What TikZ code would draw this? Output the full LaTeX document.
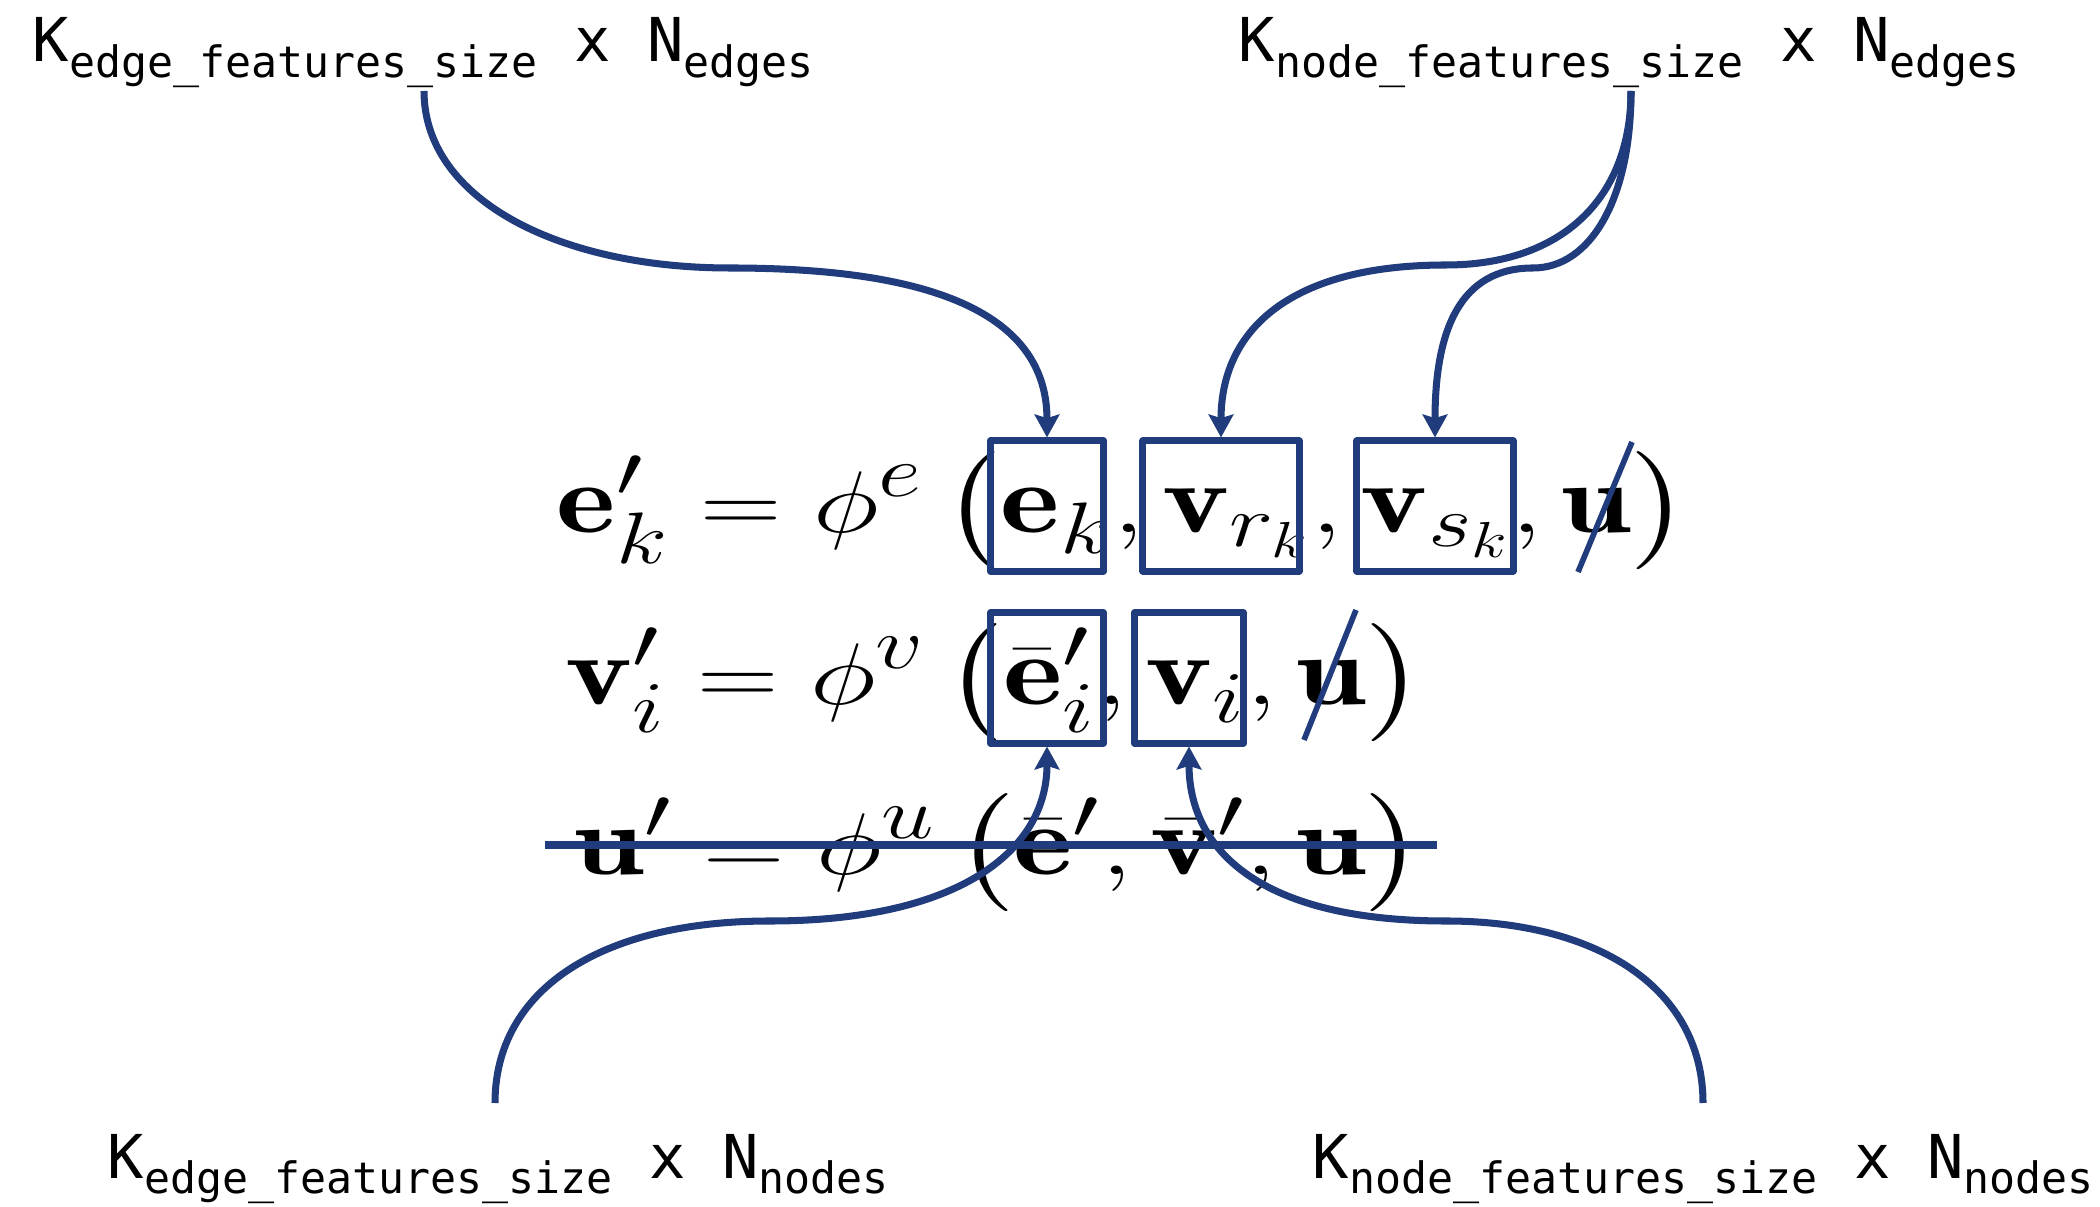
\documentclass[tikz,border=0pt]{standalone}
\usepackage{amsmath,amssymb}
\usepackage{fontspec}
\setmonofont{DejaVu Sans Mono}
\usetikzlibrary{arrows.meta}
\definecolor{gnblue}{RGB}{32,60,124}
\newcommand{\fsub}[1]{\raisebox{-4.5pt}{\fontsize{12.3}{14}\selectfont #1}}
\newcommand{\wideeq}[1]{\scalebox{1.29}[1]{$\displaystyle #1$}}

\begin{document}
\begin{tikzpicture}[x=0.01cm, y=0.01cm,
    flabel/.style={anchor=base west, inner sep=0pt, font=\fontsize{17.2}{20}\selectfont\ttfamily},
    eqn/.style={anchor=base west, inner sep=0pt, font=\fontsize{28}{40}\selectfont},
    termbox/.style={draw=gnblue, line width=2pt, line join=round, inner sep=0pt},
    link/.style={draw=gnblue, line width=2pt, -{Stealth[length=6.5pt, width=7pt, inset=1pt]}},
    cut/.style={draw=gnblue, line width=1.6pt}]
    \useasboundingbox (0,0) rectangle (2100,-1207);

    % Dimensoes
    \node[flabel] (kedgeE) at (32,-62) {K\fsub{edge\_features\_size} x N\fsub{edges}};
    \node[flabel] (knodeE) at (1238,-62) {K\fsub{node\_features\_size} x N\fsub{edges}};
    \node[flabel] (kedgeN) at (107,-1178) {K\fsub{edge\_features\_size} x N\fsub{nodes}};
    \node[flabel] (knodeN) at (1312,-1178) {K\fsub{node\_features\_size} x N\fsub{nodes}};
    \coordinate (srcEE) at (424,-91);
    \coordinate (srcNE) at (1631,-91);
    \coordinate (srcEN) at (495,-1103);
    \coordinate (srcNN) at (1703,-1103);

    % Equacoes
    \node[eqn] (eqe) at (556,-533) {\wideeq{\mathbf{e}'_k = \phi^e\,\bigl(\mathbf{e}_k, \mathbf{v}_{r_k}, \mathbf{v}_{s_k}, \mathbf{u}\bigr)}};
    \node[eqn] (eqv) at (565,-705) {\wideeq{\mathbf{v}'_i = \phi^v\,\bigl(\bar{\mathbf{e}}'_i, \mathbf{v}_i, \mathbf{u}\bigr)}};
    \node[eqn] (equ) at (573,-875) {\wideeq{\mathbf{u}' = \phi^u\,\bigl(\bar{\mathbf{e}}', \bar{\mathbf{v}}', \mathbf{u}\bigr)}};

    % Caixas
    \node[termbox, minimum width=1.13cm, minimum height=1.30cm] (ek) at (1047,-506) {};
    \node[termbox, minimum width=1.56cm, minimum height=1.30cm] (vrk) at (1221,-506) {};
    \node[termbox, minimum width=1.56cm, minimum height=1.30cm] (vsk) at (1435,-506) {};
    \node[termbox, minimum width=1.13cm, minimum height=1.30cm] (ebar) at (1047,-678) {};
    \node[termbox, minimum width=1.09cm, minimum height=1.30cm] (vi) at (1189,-678) {};

    % Cortes
    \draw[cut] (1578,-572) -- (1632,-442);
    \draw[cut] (1304,-740) -- (1356,-610);
    \draw[cut, line width=2pt] (545,-845) -- (1437,-845);

    % Setas
    \draw[link] (srcEE) .. controls (424,-200) and (560,-268) .. (730,-268) .. controls (900,-268) and (1047,-300) .. (ek.north);
    \draw[link] (srcNE) .. controls (1631,-200) and (1560,-265) .. (1446,-265) .. controls (1290,-265) and (1221,-330) .. (vrk.north);
    \draw[link] (srcNE) .. controls (1631,-200) and (1590,-268) .. (1533,-268) .. controls (1460,-268) and (1435,-330) .. (vsk.north);
    \draw[link] (srcEN) .. controls (495,-990) and (600,-921) .. (770,-921) .. controls (960,-921) and (1047,-850) .. (ebar.south);
    \draw[link] (srcNN) .. controls (1703,-990) and (1600,-921) .. (1446,-921) .. controls (1260,-921) and (1189,-850) .. (vi.south);
\end{tikzpicture}
\end{document}
